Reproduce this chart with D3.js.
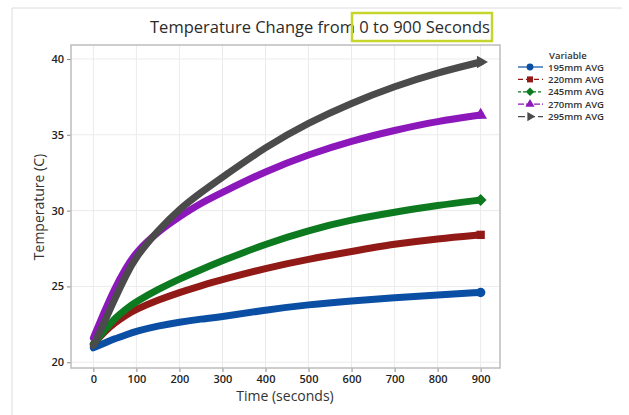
<!DOCTYPE html>
<html>
<head>
<meta charset="utf-8">
<script src="https://cdn.jsdelivr.net/npm/d3@7"></script>
<style>
  body { margin: 0; background: #fff; }
  text { font-family: "Open Sans", "Noto Sans", sans-serif; }
</style>
</head>
<body>
<div id="chart"></div>
<script>
// ---------------- data ----------------
const times = [0, 25, 50, 75, 100, 150, 200, 250, 300, 400, 500, 600, 700, 800, 900]
const avg195 = [20.95, 21.25, 21.55, 21.8, 22.05, 22.4, 22.65, 22.85, 23.0, 23.45, 23.8, 24.05, 24.25, 24.45, 24.6]
const avg220 = [21.2, 22.0, 22.6, 23.1, 23.5, 24.1, 24.6, 25.05, 25.45, 26.2, 26.8, 27.3, 27.8, 28.15, 28.4]
const avg245 = [21.2, 22.1, 22.9, 23.5, 24.0, 24.8, 25.5, 26.1, 26.7, 27.8, 28.7, 29.4, 29.9, 30.35, 30.7]
const avg270 = [21.6, 23.3, 24.9, 26.2, 27.3, 28.6, 29.6, 30.5, 31.2, 32.6, 33.7, 34.6, 35.3, 35.9, 36.3]
const avg295 = [21.1, 22.6, 24.2, 25.7, 27.0, 28.7, 30.1, 31.2, 32.2, 34.2, 35.8, 37.1, 38.2, 39.1, 39.8]

const seriesNames = ["195mm AVG", "220mm AVG", "245mm AVG", "270mm AVG", "295mm AVG"]
const xTicks = [0, 100, 200, 300, 400, 500, 600, 700, 800, 900]
const yTicks = [20, 25, 30, 35, 40]

// ---------------- look ----------------
const WIDTH = 629
const HEIGHT = 415
const PLOT_LEFT = 71
const PLOT_RIGHT = 500
const PLOT_TOP = 45
const PLOT_BOTTOM = 368

const colors = ["#0a4fa3", "#921a16", "#0d7a1f", "#8c17bb", "#4b4b4b"]
const dashes = [null, "5,3", "3,2", "6,2", "7,3"]
// diamond = square turned 45 degrees, arrow = triangle turned 90
const symbols = [d3.symbolCircle, d3.symbolSquare, d3.symbolSquare, d3.symbolTriangle, d3.symbolTriangle]
const rotations = [0, 0, 45, 0, 90]

const series = [avg195, avg220, avg245, avg270, avg295].map((vals, i) => ({
    name: seriesNames[i],
    color: colors[i],
    values: times.map((t, k) => ({ t: t, v: vals[k] }))
}))

const svg = d3.select("#chart").append("svg")
    .attr("width", WIDTH)
    .attr("height", HEIGHT)

// outer frame (top + left only visible)
svg.append("path")
    .attr("d", `M12,${HEIGHT} L12,8 L622,8`)
    .attr("fill", "none")
    .attr("stroke", "#dcdcdc")
    .attr("stroke-width", 1)

const x = d3.scaleLinear().domain([-52, 945]).range([PLOT_LEFT, PLOT_RIGHT])
const y = d3.scaleLinear().domain([19.62, 40.92]).range([PLOT_BOTTOM, PLOT_TOP])

// grid
svg.append("g").selectAll("line")
    .data(xTicks)
    .join("line")
    .attr("x1", d => x(d)).attr("x2", d => x(d))
    .attr("y1", PLOT_TOP).attr("y2", PLOT_BOTTOM)
    .attr("stroke", "#ebebeb")
svg.append("g").selectAll("line")
    .data(yTicks)
    .join("line")
    .attr("x1", PLOT_LEFT).attr("x2", PLOT_RIGHT)
    .attr("y1", d => y(d)).attr("y2", d => y(d))
    .attr("stroke", "#ebebeb")

// axes
const xAxis = svg.append("g")
    .attr("transform", `translate(0,${PLOT_BOTTOM})`)
    .call(d3.axisBottom(x).tickValues(xTicks).tickSize(4).tickSizeOuter(0))
const yAxis = svg.append("g")
    .attr("transform", `translate(${PLOT_LEFT},0)`)
    .call(d3.axisLeft(y).tickValues(yTicks).tickSize(4).tickSizeOuter(0))

;[xAxis, yAxis].forEach(a => {
    a.select(".domain").remove()
    a.selectAll(".tick line").attr("stroke", "#888")
    a.selectAll(".tick text")
        .attr("fill", "#222")
        .style("font-size", "11px")
        .style("font-weight", 600)
})

// plot frame
svg.append("rect")
    .attr("x", PLOT_LEFT).attr("y", PLOT_TOP)
    .attr("width", PLOT_RIGHT - PLOT_LEFT)
    .attr("height", PLOT_BOTTOM - PLOT_TOP)
    .attr("fill", "none")
    .attr("stroke", "#bdbdbd")
    .attr("stroke-width", 1.5)

// lines
const line = d3.line()
    .x(d => x(d.t))
    .y(d => y(d.v))
    .curve(d3.curveBasis)

svg.append("g").selectAll("path")
    .data(series)
    .join("path")
    .attr("d", d => line(d.values))
    .attr("fill", "none")
    .attr("stroke", d => d.color)
    .attr("stroke-width", 7)
    .attr("stroke-linecap", "round")
    .attr("stroke-linejoin", "round")

// end markers
svg.append("g").selectAll("path")
    .data(series)
    .join("path")
    .attr("d", (d, i) => d3.symbol().type(symbols[i]).size(70)())
    .attr("transform", (d, i) => {
        const last = d.values[d.values.length - 1]
        return `translate(${x(last.t)},${y(last.v)}) rotate(${rotations[i]})`
    })
    .attr("fill", d => d.color)

// titles
svg.append("text")
    .attr("x", 320).attr("y", 33)
    .attr("text-anchor", "middle")
    .attr("fill", "#2b2b2b")
    .style("font-size", "16.5px")
    .text("Temperature Change from 0 to 900 Seconds")

svg.append("rect")
    .attr("x", 352).attr("y", 13)
    .attr("width", 140).attr("height", 28)
    .attr("fill", "none")
    .attr("stroke", "#c6d52c")
    .attr("stroke-width", 2.5)

svg.append("text")
    .attr("x", 285).attr("y", 401)
    .attr("text-anchor", "middle")
    .attr("fill", "#333")
    .style("font-size", "14px")
    .text("Time (seconds)")

svg.append("text")
    .attr("transform", "translate(44,207) rotate(-90)")
    .attr("text-anchor", "middle")
    .attr("fill", "#333")
    .style("font-size", "14px")
    .text("Temperature (C)")

// legend
const legend = svg.append("g").attr("transform", "translate(518,0)")
legend.append("text")
    .attr("x", 31).attr("y", 59)
    .attr("fill", "#333")
    .style("font-size", "9.5px")
    .style("font-weight", 600)
    .text("Variable")

const items = legend.selectAll("g.item")
    .data(series)
    .join("g")
    .attr("class", "item")
    .attr("transform", (d, i) => `translate(0,${67 + i * 12.4})`)

items.append("line")
    .attr("x1", 0).attr("x2", 25)
    .attr("stroke", d => d.color)
    .attr("stroke-width", 1.2)
    .attr("stroke-dasharray", (d, i) => dashes[i])
items.append("path")
    .attr("d", (d, i) => d3.symbol().type(symbols[i]).size(36)())
    .attr("transform", (d, i) => `translate(12,0) rotate(${rotations[i]})`)
    .attr("fill", d => d.color)
items.append("text")
    .attr("x", 30).attr("y", 3.5)
    .attr("fill", "#333")
    .style("font-size", "9.5px")
    .style("font-weight", 600)
    .text(d => d.name)
</script>
</body>
</html>
